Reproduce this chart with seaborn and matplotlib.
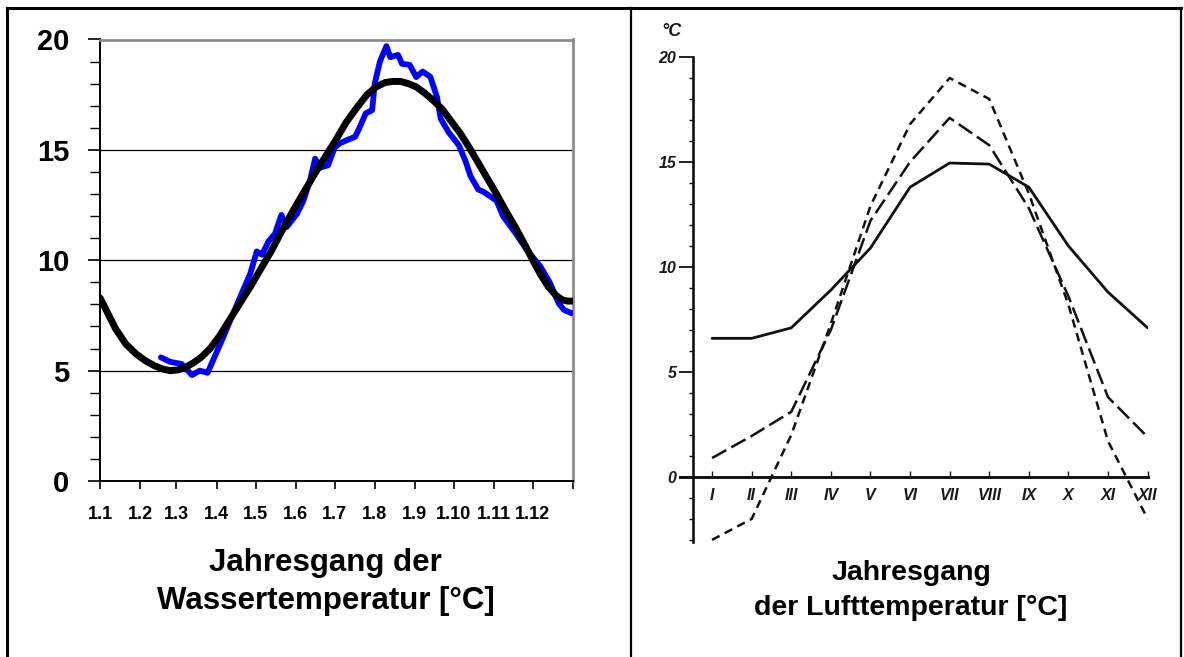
import numpy as np
import pandas as pd
import matplotlib
matplotlib.use("Agg")
import matplotlib.pyplot as plt
import seaborn as sns
from matplotlib.lines import Line2D
from matplotlib.ticker import MultipleLocator, FixedLocator

sns.set_theme(style="white")
plt.rcParams['font.family'] = ['Liberation Sans', 'DejaVu Sans']
plt.rcParams['text.color'] = 'black'
plt.rcParams['xtick.color'] = 'black'
plt.rcParams['ytick.color'] = 'black'
plt.rcParams['axes.labelcolor'] = 'black'

# ---------------- data: water temperature (left) ----------------
blue_days = [47, 54, 63, 71, 77, 83, 86, 95, 105, 116,
             121, 125, 130, 135, 140, 144, 152, 157, 162, 166,
             170, 176, 181, 185, 197, 201, 205, 210, 212, 216,
             221, 224, 230, 233, 239, 244, 249, 255, 260, 263,
             269, 277, 282, 286, 292, 296, 306, 311, 321, 329,
             340, 347, 354, 358, 364]
blue_temp = [5.6, 5.4, 5.3, 4.8, 5.0, 4.9, 5.3, 6.5, 7.9, 9.4,
             10.4, 10.25, 10.85, 11.2, 12.05, 11.5, 12.1, 12.7, 13.6, 14.6,
             14.2, 14.3, 15.1, 15.3, 15.6, 16.1, 16.65, 16.8, 18.0, 19.0,
             19.7, 19.2, 19.3, 18.9, 18.85, 18.3, 18.55, 18.3, 17.4, 16.4,
             15.8, 15.2, 14.5, 13.8, 13.2, 13.1, 12.7, 12.0, 11.2, 10.5,
             9.7, 9.0, 8.05, 7.75, 7.6]

fit_days = [0, 6, 12, 20, 28, 35, 42, 48, 54, 60, 66, 72, 78, 85, 92, 100,
            108, 116, 124, 132, 141, 150, 158, 166, 174, 182, 190, 198,
            206, 213, 220, 226, 232, 238, 244, 250, 257, 264, 271, 278,
            285, 292, 299, 306, 313, 320, 327, 334, 340, 346, 352, 357,
            361, 365]
fit_temp = [8.3, 7.6, 6.9, 6.2, 5.75, 5.45, 5.22, 5.08, 5.0, 5.03, 5.15, 5.35,
            5.6, 6.0, 6.55, 7.3, 8.05, 8.8, 9.6, 10.4, 11.4, 12.35, 13.15,
            13.95, 14.7, 15.45, 16.25, 16.9, 17.5, 17.85, 18.05, 18.1, 18.1,
            18.0, 17.85, 17.6, 17.25, 16.85, 16.3, 15.75, 15.1, 14.4, 13.7,
            13.0, 12.25, 11.55, 10.8, 10.0, 9.35, 8.8, 8.4, 8.2, 8.15, 8.15]

month_starts = [0, 31, 59, 90, 120, 151, 181, 212, 243, 273, 304, 334, 365]
water_tick_labels = ["1.1", "1.2", "1.3", "1.4", "1.5", "1.6", "1.7", "1.8",
                     "1.9", "1.10", "1.11", "1.12", ""]
water_yticks = [0, 5, 10, 15, 20]

# ---------------- data: air temperature (right) ----------------
months = [1, 2, 3, 4, 5, 6, 7, 8, 9, 10, 11, 12]
roman = ["I", "II", "III", "IV", "V", "VI", "VII", "VIII", "IX", "X", "XI", "XII"]
air_solid = [6.6, 6.6, 7.1, 8.9, 10.9, 13.8, 14.95, 14.9, 13.8, 11.0, 8.8, 7.1]
air_long = [0.9, 1.95, 3.1, 7.0, 12.2, 15.0, 17.1, 15.8, 12.8, 8.6, 3.8, 1.9]
air_short = [-3.0, -2.0, 2.0, 7.3, 12.9, 16.8, 19.0, 18.0, 13.5, 8.2, 1.7, -2.0]
air_yticks = [0, 5, 10, 15, 20]

W, H = 1184, 657
fig = plt.figure(figsize=(W / 100, H / 100), dpi=100)
fig.patch.set_facecolor("white")

# ---------------- left panel ----------------
ax1 = fig.add_axes([100 / W, 1 - 481 / H, 473 / W, (481 - 39.5) / H])
ax1.set_facecolor("white")
ax1.set_xlim(0, 365)
ax1.set_ylim(0, 20)

ax1.set_yticks(water_yticks)
ax1.yaxis.set_minor_locator(MultipleLocator(1))
ax1.set_yticklabels([str(v) for v in water_yticks], fontsize=21, fontweight="bold")
ax1.tick_params(axis="y", which="major", direction="out", length=9, width=1.2,
                color="black", pad=13, left=True)
ax1.tick_params(axis="y", which="minor", direction="out", length=7, width=1.0,
                color="black", left=True)
ax1.set_xticks(month_starts)
ax1.set_xticklabels(water_tick_labels, fontsize=13, fontweight="bold")
ax1.tick_params(axis="x", which="major", direction="out", length=6, width=1.2,
                color="black", pad=12, bottom=True)

ax1.grid(False)
for v in water_yticks[1:-1]:
    ax1.axhline(v, color="black", lw=0.9, zorder=1)

sns.lineplot(x=blue_days, y=blue_temp, color="#0000ff", lw=4.2, ax=ax1,
             solid_capstyle="round", solid_joinstyle="round", zorder=3)
sns.lineplot(x=fit_days, y=fit_temp, color="black", lw=5.0, ax=ax1,
             solid_capstyle="round", solid_joinstyle="round", zorder=4)
ax1.set_xlabel("")
ax1.set_ylabel("")
for s in ["left", "bottom"]:
    ax1.spines[s].set_color("black")
    ax1.spines[s].set_linewidth(1.4)
for s in ["top", "right"]:
    ax1.spines[s].set_color("#8c8c8c")
    ax1.spines[s].set_linewidth(2)
    ax1.spines[s].set_visible(True)

fig.text(325 / W, 1 - 563 / H, "Jahresgang der", ha="center", va="center",
         fontsize=22.5, fontweight="bold")
fig.text(326 / W, 1 - 601 / H, "Wassertemperatur [°C]", ha="center", va="center",
         fontsize=22.5, fontweight="bold")

# ---------------- right panel ----------------
ink = "#111111"
ax2 = fig.add_axes([680 / W, 1 - 542 / H, (1148.4 - 680) / W, (542 - 57) / H])
ax2.set_facecolor("none")
ax2.set_xlim(0.19, 12.02)
ax2.set_ylim(-3.1, 20)

sns.lineplot(x=months, y=air_solid, color=ink, lw=2.0, ax=ax2)
sns.lineplot(x=months, y=air_long, color=ink, lw=1.8, ax=ax2,
             linestyle=(0, (6.5, 2.3)))
sns.lineplot(x=months, y=air_short, color=ink, lw=1.8, ax=ax2,
             linestyle=(0, (3.4, 2.3)))
ax2.set_xlabel("")
ax2.set_ylabel("")
ax2.grid(False)

ax2.spines["top"].set_visible(False)
ax2.spines["right"].set_visible(False)
ax2.spines["left"].set_position(("data", 0.52))
ax2.spines["bottom"].set_position(("data", 0))
ax2.spines["left"].set_color(ink)
ax2.spines["left"].set_linewidth(1.9)
ax2.spines["bottom"].set_color(ink)
ax2.spines["bottom"].set_linewidth(2.1)

ax2.set_yticks(air_yticks)
ax2.set_yticklabels([str(v) for v in air_yticks], fontsize=11.5,
                    fontstyle="italic", fontweight="bold", color="#1a1a1a")
ax2.yaxis.set_minor_locator(MultipleLocator(1))
ax2.tick_params(axis="y", which="major", direction="out", length=10, width=1.3,
                color=ink, pad=2, left=True)
ax2.tick_params(axis="y", which="minor", direction="out", length=3, width=1.0,
                color=ink, left=True)
ax2.set_xticks(months)
ax2.set_xticklabels(roman, fontsize=11.5, fontstyle="italic", fontweight="bold",
                    color="#1a1a1a")
ax2.tick_params(axis="x", which="major", direction="in", length=4, width=1.0,
                color=ink, pad=8, bottom=True)

fig.text(671 / W, 1 - 31 / H, "°C", ha="center", va="center", fontsize=13,
         fontstyle="italic", fontweight="bold", color="#1a1a1a")
fig.text(911 / W, 1 - 573 / H, "Jahresgang", ha="center", va="center",
         fontsize=20.5, fontweight="bold")
fig.text(911 / W, 1 - 608 / H, "der Lufttemperatur [°C]", ha="center", va="center",
         fontsize=20.5, fontweight="bold")

# ---------------- table frame ----------------
def fline(x0, y0, x1, y1, lw):
    fig.add_artist(Line2D([x0 / W, x1 / W], [1 - y0 / H, 1 - y1 / H],
                          transform=fig.transFigure, color="black", lw=lw,
                          solid_capstyle="projecting"))

fline(6.5, 8, 1181, 8, 2.2)
fline(7, 8, 7, H, 2.2)
fline(630.5, 8, 630.5, H, 1.6)
fline(1181, 8, 1181, H, 1.6)

fig.savefig("out.png", dpi=100, facecolor="white")
